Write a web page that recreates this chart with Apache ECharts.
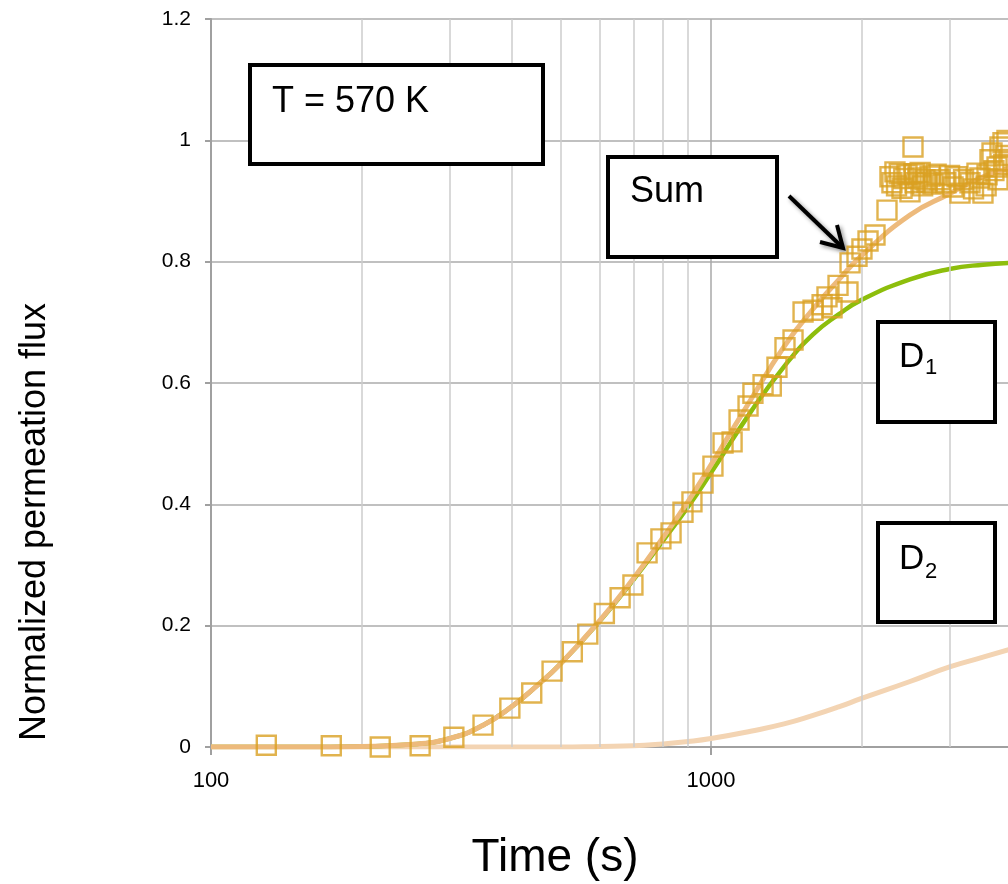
<!DOCTYPE html>
<html>
<head>
<meta charset="utf-8">
<script src="https://cdn.jsdelivr.net/npm/echarts@6/dist/echarts.min.js"></script>
<style>
  html, body { margin: 0; padding: 0; background: #fff; }
  #chart { width: 1008px; height: 884px; }
</style>
</head>
<body>
<div id="chart"></div>
<script>
// fitted curves (time in s)
const curveTime = [100, 150, 200, 250, 300, 350, 400, 450, 500, 600, 700, 800, 900, 1000, 1200, 1400, 1600, 1800, 2000, 2500, 3000, 3500, 4000]
const sumFlux = [0, 0, 0.001, 0.004, 0.014, 0.036, 0.067, 0.102, 0.137, 0.209, 0.278, 0.344, 0.405, 0.465, 0.572, 0.66, 0.722, 0.77, 0.81, 0.877, 0.912, 0.94, 0.955]
const d1Flux = [0, 0, 0.001, 0.004, 0.014, 0.036, 0.067, 0.102, 0.137, 0.208, 0.276, 0.339, 0.396, 0.452, 0.552, 0.627, 0.68, 0.713, 0.737, 0.771, 0.788, 0.795, 0.798]
const d2Flux = [0, 0, 0, 0, 0, 0, 0, 0, 0, 0.001, 0.002, 0.005, 0.009, 0.014, 0.026, 0.038, 0.052, 0.066, 0.08, 0.108, 0.132, 0.148, 0.162]

// measured points
const measTime = [129, 174, 218, 262, 306, 350, 396, 438, 481, 528, 567, 612, 658, 698, 745, 794, 832, 879, 916, 964,
  1009, 1057, 1102, 1138, 1186, 1213, 1271, 1320, 1355, 1406, 1459, 1528, 1600, 1668, 1706, 1746, 1795, 1879, 1897, 1959,
  2004, 2061, 2128, 2249, 2280, 2301, 2333, 2350, 2380, 2410, 2430, 2466, 2500, 2535, 2550, 2560, 2594, 2620, 2650, 2679,
  2704, 2742, 2780, 2820, 2871, 2950, 3000, 3048, 3105, 3148, 3200, 3296, 3350, 3404, 3450, 3499, 3550, 3565, 3614, 3648,
  3680, 3733, 3750, 3784, 3837, 3850, 3880, 3908]
const measFlux = [0.003, 0.002, 0, 0.002, 0.016, 0.036, 0.064, 0.089, 0.125, 0.157, 0.186, 0.22, 0.246, 0.267, 0.32, 0.343, 0.353, 0.387, 0.404, 0.435,
  0.463, 0.501, 0.503, 0.539, 0.562, 0.583, 0.597, 0.595, 0.626, 0.658, 0.671, 0.717, 0.72, 0.729, 0.742, 0.724, 0.761, 0.75, 0.798, 0.809,
  0.821, 0.834, 0.844, 0.885, 0.94, 0.93, 0.948, 0.925, 0.945, 0.921, 0.937, 0.943, 0.915, 0.989, 0.945, 0.93, 0.938, 0.947, 0.925, 0.935,
  0.931, 0.941, 0.928, 0.944, 0.935, 0.93, 0.942, 0.923, 0.94, 0.913, 0.935, 0.93, 0.92, 0.946, 0.938, 0.913, 0.925, 0.943, 0.968, 0.979,
  0.95, 0.956, 0.935, 0.989, 0.996, 0.96, 0.975, 1.0]

const minorTimes = [200, 300, 400, 500, 600, 700, 800, 900, 2000, 3000, 4000, 5000, 6000, 7000, 8000, 9000]
const yTicks = [0, 0.2, 0.4, 0.6, 0.8, 1, 1.2]

const FONT = '"Liberation Sans", Arial, sans-serif'
const pairs = (xs, ys) => xs.map((x, i) => [x, ys[i]])

const box = (x, y, w, h) => ({
  type: 'rect',
  shape: { x, y, width: w, height: h },
  style: { fill: '#fff', stroke: '#000', lineWidth: 4 },
  z: 100
})
const text = (x, y, str, size, extra) => ({
  type: 'text',
  x, y,
  style: Object.assign({ text: str, fontSize: size, fontFamily: FONT, fill: '#000', verticalAlign: 'middle' }, extra || {}),
  z: 101
})
const shadow = { shadowBlur: 4, shadowColor: 'rgba(0,0,0,0.45)', shadowOffsetX: 2, shadowOffsetY: 2 }

const chart = echarts.init(document.getElementById('chart'))

chart.setOption({
  animation: false,
  backgroundColor: '#fff',
  // the picture is a crop: 500 px per decade, the 10000 s end lies off the right edge
  grid: { left: 211, top: 19, bottom: 137, right: -203, containLabel: false, outerBoundsMode: 'none' },
  xAxis: {
    type: 'log',
    logBase: 10,
    min: 100,
    max: 10000,
    axisLine: { show: true, onZero: false, lineStyle: { color: '#A0A0A0', width: 2 } },
    axisTick: { show: true, length: 8, lineStyle: { color: '#A0A0A0', width: 2 } },
    axisLabel: { fontSize: 22, fontFamily: FONT, color: '#000', margin: 23, formatter: v => String(Math.round(v)) },
    splitLine: { show: true, lineStyle: { color: '#A8A8A8', width: 1.5 } },
    minorTick: { show: false },
    minorSplitLine: { show: false }
  },
  yAxis: {
    type: 'value',
    min: yTicks[0],
    max: yTicks[yTicks.length - 1],
    interval: 0.2,
    axisLine: { show: true, lineStyle: { color: '#A0A0A0', width: 2 } },
    axisTick: { show: true, length: 6, lineStyle: { color: '#A0A0A0', width: 2 } },
    axisLabel: { fontSize: 21, fontFamily: FONT, color: '#000', margin: 20 },
    splitLine: { show: true, lineStyle: { color: '#ABABAB', width: 1.5 } }
  },
  series: [
    {
      name: 'minor',
      type: 'line',
      data: [],
      z: 1,
      silent: true,
      markLine: {
        silent: true,
        symbol: 'none',
        animation: false,
        label: { show: false },
        lineStyle: { color: '#CCCCCC', width: 1.5, type: 'solid' },
        data: minorTimes.map(t => ({ xAxis: t }))
      }
    },
    {
      name: 'D2',
      type: 'line',
      data: pairs(curveTime, d2Flux),
      smooth: true,
      showSymbol: false,
      z: 3,
      lineStyle: { color: '#F3D4B3', width: 5 }
    },
    {
      name: 'D1',
      type: 'line',
      data: pairs(curveTime, d1Flux),
      smooth: true,
      showSymbol: false,
      z: 4,
      lineStyle: { color: '#8DBE0C', width: 4.5 }
    },
    {
      name: 'Sum',
      type: 'line',
      data: pairs(curveTime, sumFlux),
      smooth: true,
      showSymbol: false,
      z: 5,
      lineStyle: { color: '#EDBA7C', width: 5 }
    },
    {
      name: 'Measured',
      type: 'scatter',
      data: pairs(measTime, measFlux),
      symbol: 'rect',
      symbolSize: 19,
      z: 6,
      itemStyle: { color: 'rgba(0,0,0,0)', borderColor: '#DAA022', borderWidth: 2.4 }
    }
  ],
  graphic: [
    box(250, 65, 293, 99),
    text(272, 102, 'T = 570 K', 36),
    box(608, 157, 169, 100),
    text(630, 192, 'Sum', 36),
    {
      type: 'group',
      z: 102,
      children: [
        { type: 'line', shape: { x1: 789, y1: 196, x2: 842, y2: 247 }, style: Object.assign({ stroke: '#000', lineWidth: 4 }, shadow) },
        { type: 'polyline', shape: { points: [[820, 242], [843, 248], [837, 225]] }, style: Object.assign({ stroke: '#000', fill: null, lineWidth: 4, lineJoin: 'miter' }, shadow) }
      ]
    },
    box(878, 322, 117, 100),
    text(899, 357, 'D', 35),
    text(925, 368, '1', 22),
    box(878, 523, 117, 99),
    text(899, 559, 'D', 35),
    text(925, 572, '2', 22),
    Object.assign(text(35, 522, 'Normalized permeation flux', 36, { align: 'center' }), { rotation: Math.PI / 2 }),
    text(555, 858, 'Time (s)', 46, { align: 'center' })
  ]
})
</script>
</body>
</html>
